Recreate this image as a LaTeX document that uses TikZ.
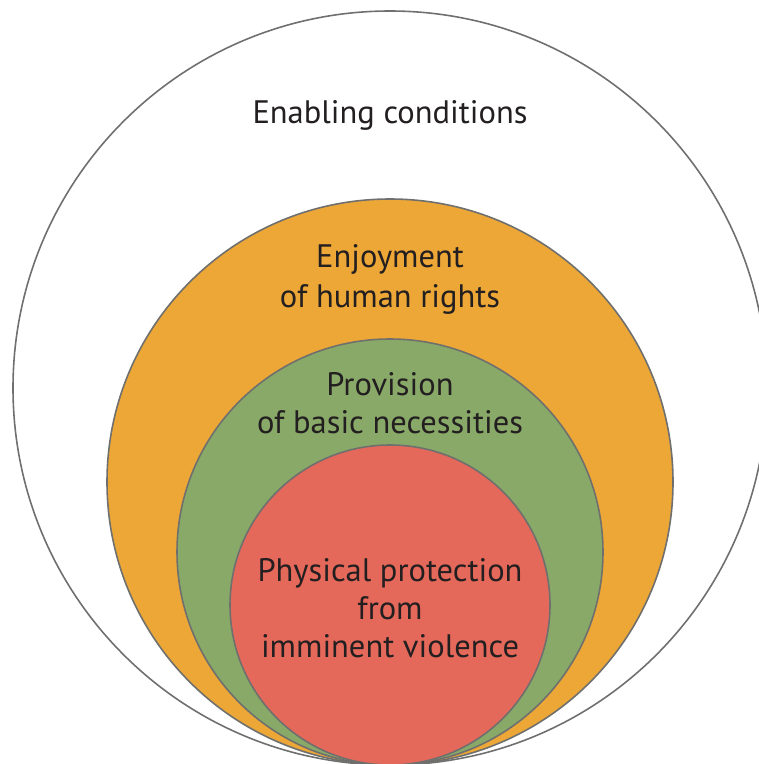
\documentclass[tikz,border=0pt]{standalone}
\usepackage{fontspec}
\setmainfont{PT Sans}
\usepackage{xcolor}
\usepackage{tikz}

\definecolor{rimgray}{HTML}{6F6F6E}
\definecolor{txtblack}{HTML}{231F20}
\definecolor{rightsorange}{HTML}{ECA737}
\definecolor{needsgreen}{HTML}{88A968}
\definecolor{safetyred}{HTML}{E4695A}

\begin{document}
\begin{tikzpicture}[x=0.02cm, y=0.02cm]
\tikzset{
  ring/.style={draw=rimgray, line width=0.9pt},
  label/.style={text=txtblack, align=center, inner sep=0pt,
    font=\fontsize{18.5}{21.6}\selectfont}
}
\useasboundingbox (0,0) rectangle (759,-764);
\clip (0,0) rectangle (759,-764);
% rings, outside in, all touching at the bottom
\draw [ring, fill=white] (390,-388) circle (377);
\draw [ring, fill=rightsorange] (390,-482) circle (283);
\draw [ring, fill=needsgreen] (390,-552) circle (213);
\draw [ring, fill=safetyred] (390,-605) circle (160);
% texts
\node [label] (enabling) at (390,-115) {Enabling conditions};
\node [label, font=\fontsize{18.5}{22.7}\selectfont] (rights) at (390,-279) {Enjoyment\\of human rights};
\node [label] (needs) at (390,-403) {Provision\\of basic necessities};
\node [label] (safety) at (390,-608) {Physical protection\\from\\imminent violence};
\end{tikzpicture}
\end{document}
